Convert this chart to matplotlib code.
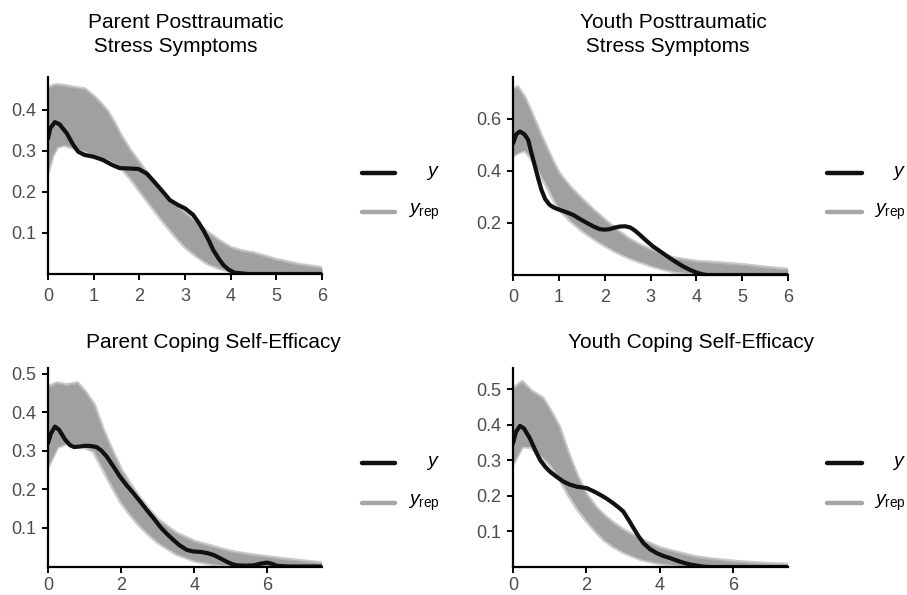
import matplotlib
matplotlib.use("Agg")
import matplotlib.pyplot as plt
from matplotlib.lines import Line2D

plt.rcParams['font.family'] = ['Liberation Sans', 'DejaVu Sans']
plt.rcParams['mathtext.fontset'] = 'custom'
plt.rcParams['mathtext.it'] = 'Liberation Sans:italic'
plt.rcParams['mathtext.rm'] = 'Liberation Sans'

# ---------------- data ----------------
titles = ["Parent Posttraumatic\n Stress Symptoms", "Youth Posttraumatic\n Stress Symptoms",
          "Parent Coping Self-Efficacy", "Youth Coping Self-Efficacy"]

# observed density y
p1_y_x = [0, 0.05, 0.15, 0.25, 0.41, 0.55, 0.66, 0.8, 0.99, 1.2, 1.4, 1.57, 1.8, 1.98, 2.16, 2.3, 2.45,
          2.67, 2.85, 3.0, 3.18, 3.3, 3.4, 3.52, 3.62, 3.74, 3.84, 3.95, 4.09, 4.38, 6.0]
p1_y_d = [0.33, 0.355, 0.37, 0.365, 0.343, 0.315, 0.298, 0.29, 0.286, 0.278, 0.266, 0.258, 0.257, 0.256,
          0.245, 0.228, 0.209, 0.18, 0.168, 0.16, 0.144, 0.125, 0.107, 0.082, 0.058, 0.037, 0.022, 0.011,
          0.003, 0.0, 0.0]

p2_y_x = [0, 0.07, 0.15, 0.25, 0.33, 0.4, 0.48, 0.55, 0.62, 0.7, 0.8, 0.9, 1.02, 1.15, 1.31, 1.45, 1.6,
          1.75, 1.89, 2.0, 2.11, 2.22, 2.33, 2.45, 2.55, 2.65, 2.77, 2.9, 3.06, 3.25, 3.43, 3.58, 3.72,
          3.87, 4.01, 4.12, 4.23, 6.0]
p2_y_d = [0.505, 0.54, 0.551, 0.54, 0.519, 0.47, 0.417, 0.37, 0.327, 0.292, 0.269, 0.258, 0.25, 0.242,
          0.231, 0.216, 0.201, 0.187, 0.176, 0.174, 0.176, 0.182, 0.186, 0.187, 0.183, 0.172, 0.154,
          0.133, 0.109, 0.086, 0.064, 0.047, 0.032, 0.019, 0.009, 0.003, 0.0, 0.0]

p3_y_x = [0, 0.08, 0.19, 0.3, 0.47, 0.6, 0.71, 0.85, 1.0, 1.15, 1.33, 1.47, 1.61, 1.8, 1.97, 2.15, 2.34,
          2.52, 2.7, 2.9, 3.07, 3.25, 3.43, 3.6, 3.8, 3.98, 4.16, 4.35, 4.53, 4.7, 4.9, 5.05, 5.17, 5.4,
          5.63, 5.8, 5.99, 6.13, 6.26, 6.6, 7.5]
p3_y_d = [0.32, 0.345, 0.363, 0.355, 0.329, 0.315, 0.31, 0.311, 0.313, 0.313, 0.31, 0.3, 0.285, 0.258,
          0.233, 0.211, 0.19, 0.169, 0.147, 0.124, 0.103, 0.085, 0.069, 0.055, 0.043, 0.039, 0.038,
          0.035, 0.03, 0.022, 0.012, 0.006, 0.003, 0.002, 0.003, 0.007, 0.01, 0.007, 0.002, 0.0, 0.0]

p4_y_x = [0, 0.08, 0.19, 0.3, 0.46, 0.6, 0.74, 0.88, 1.01, 1.2, 1.38, 1.55, 1.74, 2.01, 2.2, 2.38, 2.56,
          2.74, 2.9, 3.01, 3.15, 3.29, 3.42, 3.56, 3.74, 3.92, 4.1, 4.29, 4.47, 4.65, 4.83, 5.01, 5.2,
          5.4, 7.5]
p4_y_d = [0.348, 0.38, 0.397, 0.39, 0.362, 0.33, 0.301, 0.282, 0.268, 0.253, 0.24, 0.232, 0.226, 0.222,
          0.213, 0.203, 0.192, 0.179, 0.166, 0.156, 0.133, 0.109, 0.087, 0.067, 0.05, 0.039, 0.031,
          0.025, 0.018, 0.012, 0.007, 0.004, 0.001, 0.0, 0.0]

# replicated densities y_rep: envelope of the gray bundle
p1_rep_x = [0, 0.1, 0.2, 0.35, 0.5, 0.65, 0.8, 1.0, 1.15, 1.3, 1.45, 1.6, 1.8, 2.0, 2.25, 2.5, 2.75, 3.0,
            3.25, 3.5, 3.75, 4.0, 4.25, 4.5, 5.0, 5.5, 6.0]
p1_rep_hi = [0.45, 0.458, 0.46, 0.458, 0.455, 0.452, 0.45, 0.432, 0.415, 0.396, 0.367, 0.335, 0.3, 0.27,
             0.232, 0.197, 0.17, 0.148, 0.124, 0.10, 0.08, 0.063, 0.055, 0.05, 0.034, 0.022, 0.014]
p1_rep_lo = [0.25, 0.29, 0.31, 0.315, 0.31, 0.305, 0.30, 0.29, 0.285, 0.28, 0.272, 0.26, 0.235, 0.205,
             0.168, 0.132, 0.098, 0.067, 0.045, 0.026, 0.015, 0.007, 0.004, 0.002, 0.0, 0.0, 0.0]

p2_rep_x = [0, 0.1, 0.25, 0.38, 0.5, 0.62, 0.75, 0.88, 1.0, 1.25, 1.5, 1.75, 2.0, 2.25, 2.5, 2.75, 3.0,
            3.25, 3.5, 4.0, 4.5, 5.0, 5.5, 6.0]
p2_rep_hi = [0.71, 0.72, 0.68, 0.63, 0.58, 0.53, 0.48, 0.43, 0.39, 0.335, 0.29, 0.248, 0.21, 0.173, 0.14,
             0.115, 0.096, 0.078, 0.064, 0.05, 0.045, 0.038, 0.028, 0.02]
p2_rep_lo = [0.46, 0.47, 0.48, 0.455, 0.42, 0.38, 0.34, 0.295, 0.257, 0.21, 0.173, 0.142, 0.115, 0.09,
             0.07, 0.053, 0.038, 0.025, 0.015, 0.006, 0.002, 0.001, 0.0, 0.0]

p3_rep_x = [0, 0.25, 0.5, 0.8, 1.0, 1.25, 1.5, 1.75, 2.0, 2.25, 2.5, 2.75, 3.0, 3.5, 4.0, 4.5, 5.0, 5.5,
            6.0, 6.5, 7.0, 7.5]
p3_rep_hi = [0.465, 0.475, 0.47, 0.475, 0.454, 0.42, 0.355, 0.3, 0.25, 0.212, 0.178, 0.148, 0.121, 0.086,
             0.064, 0.051, 0.038, 0.03, 0.024, 0.018, 0.013, 0.008]
p3_rep_lo = [0.26, 0.31, 0.32, 0.315, 0.31, 0.30, 0.255, 0.21, 0.168, 0.136, 0.108, 0.085, 0.064, 0.034,
             0.016, 0.007, 0.003, 0.001, 0.001, 0.0, 0.0, 0.0]

p4_rep_x = [0, 0.25, 0.5, 0.8, 1.0, 1.25, 1.5, 1.75, 2.0, 2.25, 2.5, 2.75, 3.0, 3.5, 4.0, 4.5, 5.0, 5.5,
            6.0, 6.5, 7.0, 7.5]
p4_rep_hi = [0.50, 0.52, 0.494, 0.475, 0.442, 0.395, 0.32, 0.255, 0.203, 0.168, 0.142, 0.122, 0.104,
             0.076, 0.053, 0.039, 0.027, 0.02, 0.015, 0.011, 0.008, 0.006]
p4_rep_lo = [0.292, 0.34, 0.338, 0.31, 0.29, 0.254, 0.207, 0.166, 0.132, 0.102, 0.076, 0.058, 0.043,
             0.022, 0.011, 0.005, 0.002, 0.001, 0.001, 0.0, 0.0, 0.0]

x_ticks_top = [0, 1, 2, 3, 4, 5, 6]
x_ticks_bot = [0, 2, 4, 6]
y_ticks = [[0.1, 0.2, 0.3, 0.4], [0.2, 0.4, 0.6], [0.1, 0.2, 0.3, 0.4, 0.5], [0.1, 0.2, 0.3, 0.4, 0.5]]
y_tick_labels = [["0.1", "0.2", "0.3", "0.4"], ["0.2", "0.4", "0.6"],
                 ["0.1", "0.2", "0.3", "0.4", "0.5"], ["0.1", "0.2", "0.3", "0.4", "0.5"]]
x_lims = [6, 6, 7.5, 7.5]
y_lims = [0.48, 0.76, 0.515, 0.56]
legend_labels = ["$y$", "$y_{\\mathrm{rep}}$"]

# ---------------- figure ----------------
W, H = 907, 595
fig = plt.figure(figsize=(W / 100, H / 100), dpi=100)

def fx(px):
    return px / W

def fy(py):
    return 1 - py / H

# axes rectangles in pixels: left, right, bottom, top
rects = [(48, 322, 274, 77), (513, 788, 275, 77), (48, 322, 566.5, 368), (513, 788, 567, 368)]
ys = [(p1_y_x, p1_y_d), (p2_y_x, p2_y_d), (p3_y_x, p3_y_d), (p4_y_x, p4_y_d)]
reps = [(p1_rep_x, p1_rep_lo, p1_rep_hi), (p2_rep_x, p2_rep_lo, p2_rep_hi),
        (p3_rep_x, p3_rep_lo, p3_rep_hi), (p4_rep_x, p4_rep_lo, p4_rep_hi)]

GRAY_FILL = '#a0a0a0'
GRAY_FRINGE = '#cbcbcb'
TICK_COL = '#4d4d4d'

for i in range(4):
    l, r, b, t = rects[i]
    ax = fig.add_axes([fx(l), fy(b), (r - l) / W, (b - t) / H])
    rx, rlo, rhi = reps[i]
    ax.plot(rx, rhi, color=GRAY_FRINGE, lw=3.2, zorder=1, solid_joinstyle='round')
    ax.plot(rx, rlo, color=GRAY_FRINGE, lw=3.2, zorder=1, solid_joinstyle='round')
    ax.fill_between(rx, rlo, rhi, color=GRAY_FILL, lw=0, zorder=2)
    ax.plot(rx, rhi, color='#b0b0b0', lw=0.8, zorder=2)
    yx, yd = ys[i]
    ax.plot(yx, yd, color='#111111', lw=3.0, solid_capstyle='round', solid_joinstyle='round', zorder=3)
    ax.set_xlim(0, x_lims[i])
    ax.set_ylim(0, y_lims[i])
    ax.set_xticks(x_ticks_top if i < 2 else x_ticks_bot)
    ax.set_yticks(y_ticks[i])
    ax.set_yticklabels(y_tick_labels[i])
    for s in ['top', 'right']:
        ax.spines[s].set_visible(False)
    for s in ['left', 'bottom']:
        ax.spines[s].set_linewidth(1.6)
        ax.spines[s].set_color('black')
        ax.spines[s].set_zorder(4)
    ax.tick_params(length=4, width=1.4, color='black', labelcolor=TICK_COL, labelsize=13)
    ax.tick_params(axis='x', pad=6 if i < 2 else 3.2)
    ax.tick_params(axis='y', pad=4.5)
    ax.patch.set_alpha(0)

# titles
fig.text(fx(88), fy(22), "Parent Posttraumatic", fontsize=15, va='center', ha='left')
fig.text(fx(88), fy(46), " Stress Symptoms", fontsize=15, va='center', ha='left')
fig.text(fx(580), fy(22), "Youth Posttraumatic", fontsize=15, va='center', ha='left')
fig.text(fx(580), fy(46), " Stress Symptoms", fontsize=15, va='center', ha='left')
fig.text(fx(86), fy(342), titles[2], fontsize=15, va='center', ha='left')
fig.text(fx(568), fy(342), titles[3], fontsize=15, va='center', ha='left')

# legends
leg_pos = [(362, 395, 440, 173, 212), (827, 862, 906, 173, 212),
           (362, 395, 440, 463, 503), (827, 862, 906, 463, 503)]
for (x0, x1, xt, y1, y2) in leg_pos:
    fig.add_artist(Line2D([fx(x0), fx(x1)], [fy(y1), fy(y1)], color='#111111', lw=3.2,
                          solid_capstyle='round'))
    fig.add_artist(Line2D([fx(x0), fx(x1)], [fy(y2), fy(y2)], color='#a6a6a6', lw=3.2,
                          solid_capstyle='round'))
    fig.text(fx(xt), fy(y1), legend_labels[0], fontsize=14, ha='right', va='center')
    fig.text(fx(xt), fy(y2), legend_labels[1], fontsize=14, ha='right', va='center')

fig.savefig("out.png", dpi=100)
